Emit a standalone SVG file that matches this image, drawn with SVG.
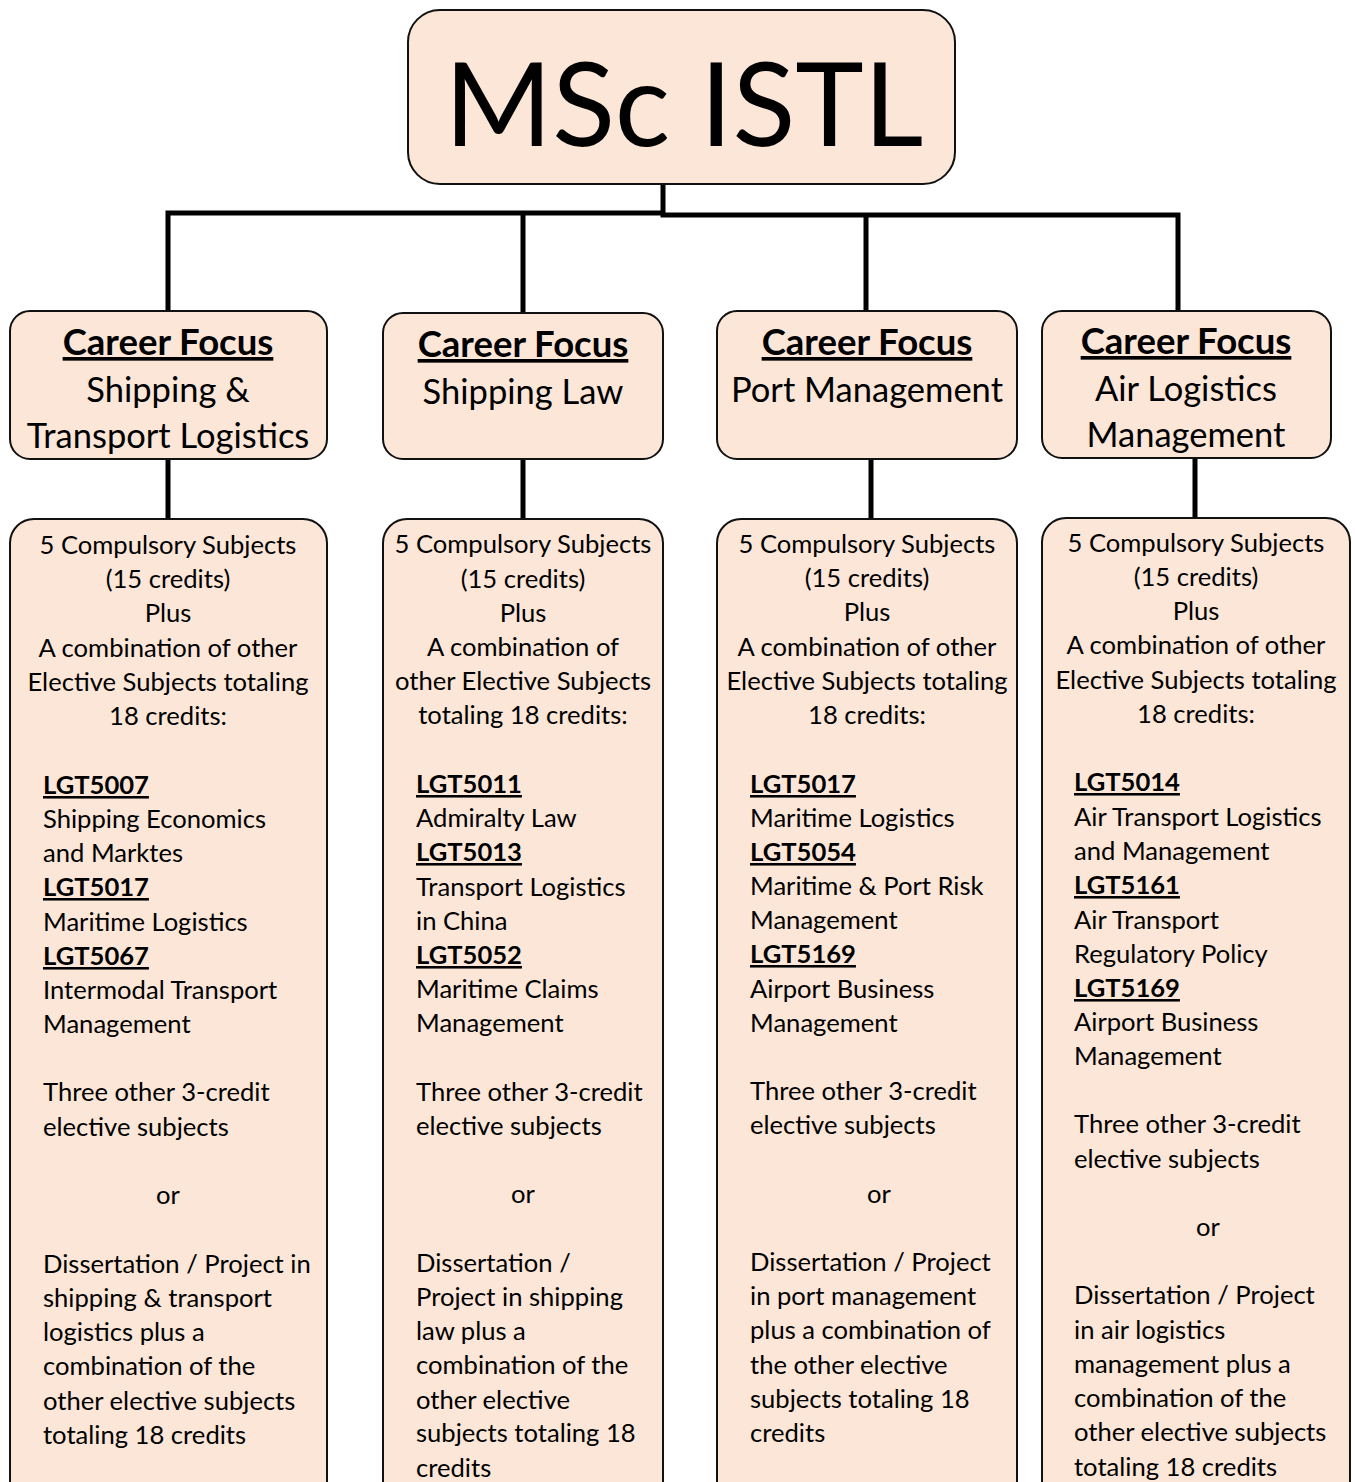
<svg xmlns="http://www.w3.org/2000/svg" width="1355" height="1482" viewBox="0 0 1355 1482">
<style>
.box{fill:#FBE6D7;stroke:#111;stroke-width:2}
.con{fill:none;stroke:#000;stroke-width:5}
text{font-family:Lato,"Open Sans","Liberation Sans",sans-serif;fill:#000}
.t{font-size:25.6px}
.c{text-anchor:middle}
.b{font-weight:bold;text-decoration:underline}
.h{font-size:36.5px;font-weight:bold;text-decoration:underline;text-anchor:middle}
.s{font-size:34.5px;text-anchor:middle}
.title{font-size:116px;text-anchor:middle}
</style>
<rect width="1355" height="1482" fill="#fff"/>
<g id="connectors">
<polyline class="con" points="168,311 168,213 663,213"/>
<polyline class="con" points="663,184 663,215 1178,215 1178,311"/>
<line class="con" x1="523" y1="213" x2="523" y2="313"/>
<line class="con" x1="866" y1="215" x2="866" y2="311"/>
<line class="con" x1="168" y1="459" x2="168" y2="519"/>
<line class="con" x1="523" y1="459" x2="523" y2="519"/>
<line class="con" x1="871" y1="459" x2="871" y2="519"/>
<line class="con" x1="1195" y1="458" x2="1195" y2="518"/>
</g>
<g id="root">
<rect class="box" x="408" y="10" width="547" height="174" rx="32"/>
<text class="title" x="684" y="146">MSc ISTL</text>
</g>
<g id="focus1">
<rect class="box" x="10" y="311" width="317" height="148" rx="20"/>
<text class="h" x="168" y="355">Career Focus</text>
<text class="s" x="168" y="402">Shipping &amp;</text>
<text class="s" x="168" y="448">Transport Logistics</text>
</g>
<g id="focus2">
<rect class="box" x="383" y="313" width="280" height="146" rx="20"/>
<text class="h" x="523" y="357">Career Focus</text>
<text class="s" x="523" y="404">Shipping Law</text>
</g>
<g id="focus3">
<rect class="box" x="717" y="311" width="300" height="148" rx="20"/>
<text class="h" x="867" y="355">Career Focus</text>
<text class="s" x="867" y="402">Port Management</text>
</g>
<g id="focus4">
<rect class="box" x="1042" y="311" width="289" height="147" rx="20"/>
<text class="h" x="1186" y="354">Career Focus</text>
<text class="s" x="1186" y="401">Air Logistics</text>
<text class="s" x="1186" y="447">Management</text>
</g>
<g id="detail1">
<rect class="box" x="10" y="519" width="317" height="990" rx="24"/>
<text class="t c" x="168" y="554">5 Compulsory Subjects</text>
<text class="t c" x="168" y="588">(15 credits)</text>
<text class="t c" x="168" y="622">Plus</text>
<text class="t c" x="168" y="657">A combination of other</text>
<text class="t c" x="168" y="691">Elective Subjects totaling</text>
<text class="t c" x="168" y="725">18 credits:</text>
<text class="t b" x="43" y="794">LGT5007</text>
<text class="t" x="43" y="828">Shipping Economics</text>
<text class="t" x="43" y="862">and Marktes</text>
<text class="t b" x="43" y="896">LGT5017</text>
<text class="t" x="43" y="931">Maritime Logistics</text>
<text class="t b" x="43" y="965">LGT5067</text>
<text class="t" x="43" y="999">Intermodal Transport</text>
<text class="t" x="43" y="1033">Management</text>
<text class="t" x="43" y="1101">Three other 3-credit</text>
<text class="t" x="43" y="1136">elective subjects</text>
<text class="t c" x="168" y="1204">or</text>
<text class="t" x="43" y="1273">Dissertation / Project in</text>
<text class="t" x="43" y="1307">shipping &amp; transport</text>
<text class="t" x="43" y="1341">logistics plus a</text>
<text class="t" x="43" y="1375">combination of the</text>
<text class="t" x="43" y="1410">other elective subjects</text>
<text class="t" x="43" y="1444">totaling 18 credits</text>
</g>
<g id="detail2">
<rect class="box" x="383" y="519" width="280" height="990" rx="24"/>
<text class="t c" x="523" y="553">5 Compulsory Subjects</text>
<text class="t c" x="523" y="588">(15 credits)</text>
<text class="t c" x="523" y="622">Plus</text>
<text class="t c" x="523" y="656">A combination of</text>
<text class="t c" x="523" y="690">other Elective Subjects</text>
<text class="t c" x="523" y="724">totaling 18 credits:</text>
<text class="t b" x="416" y="793">LGT5011</text>
<text class="t" x="416" y="827">Admiralty Law</text>
<text class="t b" x="416" y="861">LGT5013</text>
<text class="t" x="416" y="896">Transport Logistics</text>
<text class="t" x="416" y="930">in China</text>
<text class="t b" x="416" y="964">LGT5052</text>
<text class="t" x="416" y="998">Maritime Claims</text>
<text class="t" x="416" y="1032">Management</text>
<text class="t" x="416" y="1101">Three other 3-credit</text>
<text class="t" x="416" y="1135">elective subjects</text>
<text class="t c" x="523" y="1203">or</text>
<text class="t" x="416" y="1272">Dissertation /</text>
<text class="t" x="416" y="1306">Project in shipping</text>
<text class="t" x="416" y="1340">law plus a</text>
<text class="t" x="416" y="1374">combination of the</text>
<text class="t" x="416" y="1409">other elective</text>
<text class="t" x="416" y="1442">subjects totaling 18</text>
<text class="t" x="416" y="1477">credits</text>
</g>
<g id="detail3">
<rect class="box" x="717" y="519" width="300" height="990" rx="24"/>
<text class="t c" x="867" y="553">5 Compulsory Subjects</text>
<text class="t c" x="867" y="587">(15 credits)</text>
<text class="t c" x="867" y="621">Plus</text>
<text class="t c" x="867" y="656">A combination of other</text>
<text class="t c" x="867" y="690">Elective Subjects totaling</text>
<text class="t c" x="867" y="724">18 credits:</text>
<text class="t b" x="750" y="793">LGT5017</text>
<text class="t" x="750" y="827">Maritime Logistics</text>
<text class="t b" x="750" y="861">LGT5054</text>
<text class="t" x="750" y="895">Maritime &amp; Port Risk</text>
<text class="t" x="750" y="929">Management</text>
<text class="t b" x="750" y="963">LGT5169</text>
<text class="t" x="750" y="998">Airport Business</text>
<text class="t" x="750" y="1032">Management</text>
<text class="t" x="750" y="1100">Three other 3-credit</text>
<text class="t" x="750" y="1134">elective subjects</text>
<text class="t c" x="879" y="1203">or</text>
<text class="t" x="750" y="1271">Dissertation / Project</text>
<text class="t" x="750" y="1305">in port management</text>
<text class="t" x="750" y="1339">plus a combination of</text>
<text class="t" x="750" y="1374">the other elective</text>
<text class="t" x="750" y="1408">subjects totaling 18</text>
<text class="t" x="750" y="1442">credits</text>
</g>
<g id="detail4">
<rect class="box" x="1042" y="518" width="308" height="990" rx="24"/>
<text class="t c" x="1196" y="552">5 Compulsory Subjects</text>
<text class="t c" x="1196" y="586">(15 credits)</text>
<text class="t c" x="1196" y="620">Plus</text>
<text class="t c" x="1196" y="654">A combination of other</text>
<text class="t c" x="1196" y="689">Elective Subjects totaling</text>
<text class="t c" x="1196" y="723">18 credits:</text>
<text class="t b" x="1074" y="791">LGT5014</text>
<text class="t" x="1074" y="826">Air Transport Logistics</text>
<text class="t" x="1074" y="860">and Management</text>
<text class="t b" x="1074" y="894">LGT5161</text>
<text class="t" x="1074" y="929">Air Transport</text>
<text class="t" x="1074" y="963">Regulatory Policy</text>
<text class="t b" x="1074" y="997">LGT5169</text>
<text class="t" x="1074" y="1031">Airport Business</text>
<text class="t" x="1074" y="1065">Management</text>
<text class="t" x="1074" y="1133">Three other 3-credit</text>
<text class="t" x="1074" y="1168">elective subjects</text>
<text class="t c" x="1208" y="1236">or</text>
<text class="t" x="1074" y="1304">Dissertation / Project</text>
<text class="t" x="1074" y="1339">in air logistics</text>
<text class="t" x="1074" y="1373">management plus a</text>
<text class="t" x="1074" y="1407">combination of the</text>
<text class="t" x="1074" y="1441">other elective subjects</text>
<text class="t" x="1074" y="1476">totaling 18 credits</text>
</g>
</svg>
